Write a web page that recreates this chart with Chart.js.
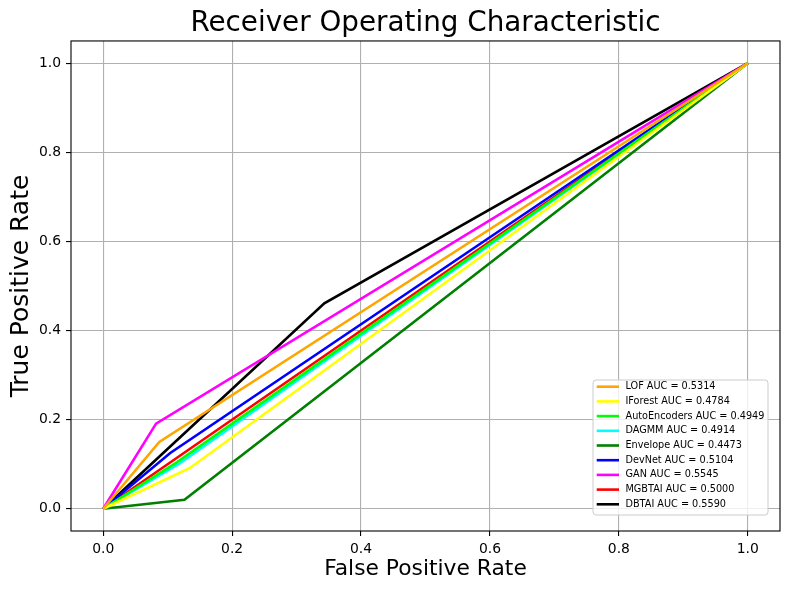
<!DOCTYPE html>
<html>
<head>
<meta charset="utf-8">
<script src="https://cdn.jsdelivr.net/npm/chart.js@4.4.1/dist/chart.umd.min.js"></script>
<style>
  html, body { margin: 0; padding: 0; background: #fff; }
</style>
</head>
<body>
<canvas id="roc" width="789" height="590"></canvas>
<script>
// ROC data: each curve is (0,0) -> knee -> (1,1)
const models = ["LOF", "IForest", "AutoEncoders", "DAGMM", "Envelope", "DevNet", "GAN", "MGBTAI", "DBTAI"];
const aucs = ["0.5314", "0.4784", "0.4949", "0.4914", "0.4473", "0.5104", "0.5545", "0.5000", "0.5590"];
const kneeFpr = [0.087, 0.134, 0.114, 0.118, 0.126, 0.104, 0.082, 0.110, 0.343];
const kneeTpr = [0.150, 0.091, 0.104, 0.101, 0.020, 0.125, 0.191, 0.110, 0.461];
const xTicks = [0.0, 0.2, 0.4, 0.6, 0.8, 1.0];
const yTicks = [0.0, 0.2, 0.4, 0.6, 0.8, 1.0];

const lineColors = ["#ffa500", "#ffff00", "#00ff00", "#00ffff", "#008000", "#0000ff", "#ff00ff", "#ff0000", "#000000"];

Chart.defaults.font.family = "'DejaVu Sans', sans-serif";
Chart.defaults.color = "#000";

const datasets = models.map((name, i) => ({
  label: name + " AUC = " + aucs[i],
  data: [{ x: 0, y: 0 }, { x: kneeFpr[i], y: kneeTpr[i] }, { x: 1, y: 1 }],
  borderColor: lineColors[i],
  backgroundColor: lineColors[i],
  borderWidth: 2.6,
  showLine: true,
  fill: false,
  pointRadius: 0,
  pointHoverRadius: 0,
  tension: 0
}));

// axes frame + matplotlib style legend in the lower right
const frameAndLegend = {
  id: "frameAndLegend",
  afterDatasetsDraw(chart) {
    const { ctx, chartArea: a } = chart;
    ctx.save();
    ctx.strokeStyle = "#000";
    ctx.lineWidth = 1.1;
    ctx.strokeRect(a.left, a.top, a.right - a.left, a.bottom - a.top);

    const boxW = 175, boxH = 135, rowH = 14.7;
    const right = a.right - 12, bottom = a.bottom - 16;
    const left = right - boxW, top = bottom - boxH;
    ctx.beginPath();
    ctx.roundRect(left, top, boxW, boxH, 3);
    ctx.fillStyle = "rgba(255,255,255,0.8)";
    ctx.fill();
    ctx.strokeStyle = "#cccccc";
    ctx.lineWidth = 1;
    ctx.stroke();

    ctx.font = "9.7px 'DejaVu Sans'";
    ctx.textBaseline = "middle";
    chart.data.datasets.forEach((ds, i) => {
      const y = top + 6.7 + i * rowH;
      ctx.beginPath();
      ctx.moveTo(left + 3.7, y);
      ctx.lineTo(left + 26, y);
      ctx.strokeStyle = ds.borderColor;
      ctx.lineWidth = 2.6;
      ctx.stroke();
      ctx.fillStyle = "#000";
      ctx.fillText(ds.label, left + 32.5, y);
    });
    ctx.restore();
  }
};

const axisCommon = {
  type: "linear",
  min: -0.05,
  max: 1.05,
  border: { display: false },
  grid: { color: "#b0b0b0", lineWidth: 1.1, tickLength: 5, tickColor: "#000", tickWidth: 1.1 },
  ticks: { font: { size: 13.9 }, color: "#000", padding: 5, callback: v => v.toFixed(1) }
};

new Chart(document.getElementById("roc"), {
  type: "scatter",
  data: { datasets },
  options: {
    responsive: false,
    animation: false,
    layout: { padding: { left: 0, right: 9, top: 0, bottom: 0 } },
    scales: {
      x: {
        ...axisCommon,
        afterBuildTicks: s => { s.ticks = xTicks.map(v => ({ value: v })); },
        afterFit: s => { s.height = 59; },
        title: { display: true, text: "False Positive Rate", font: { size: 21.8 }, color: "#000", padding: { top: 0, bottom: 8 } }
      },
      y: {
        ...axisCommon,
        afterBuildTicks: s => { s.ticks = yTicks.map(v => ({ value: v })); },
        afterFit: s => { s.width = 71; },
        title: { display: true, text: "True Positive Rate", font: { size: 25 }, color: "#000", padding: { top: 6, bottom: 0 } }
      }
    },
    plugins: {
      title: {
        display: true,
        text: "Receiver Operating Characteristic",
        fullSize: false,
        font: { size: 27.8, weight: "normal" },
        color: "#000",
        padding: { top: 7, bottom: 0.6 }
      },
      legend: { display: false },
      tooltip: { enabled: false }
    }
  },
  plugins: [frameAndLegend]
});
</script>
</body>
</html>
